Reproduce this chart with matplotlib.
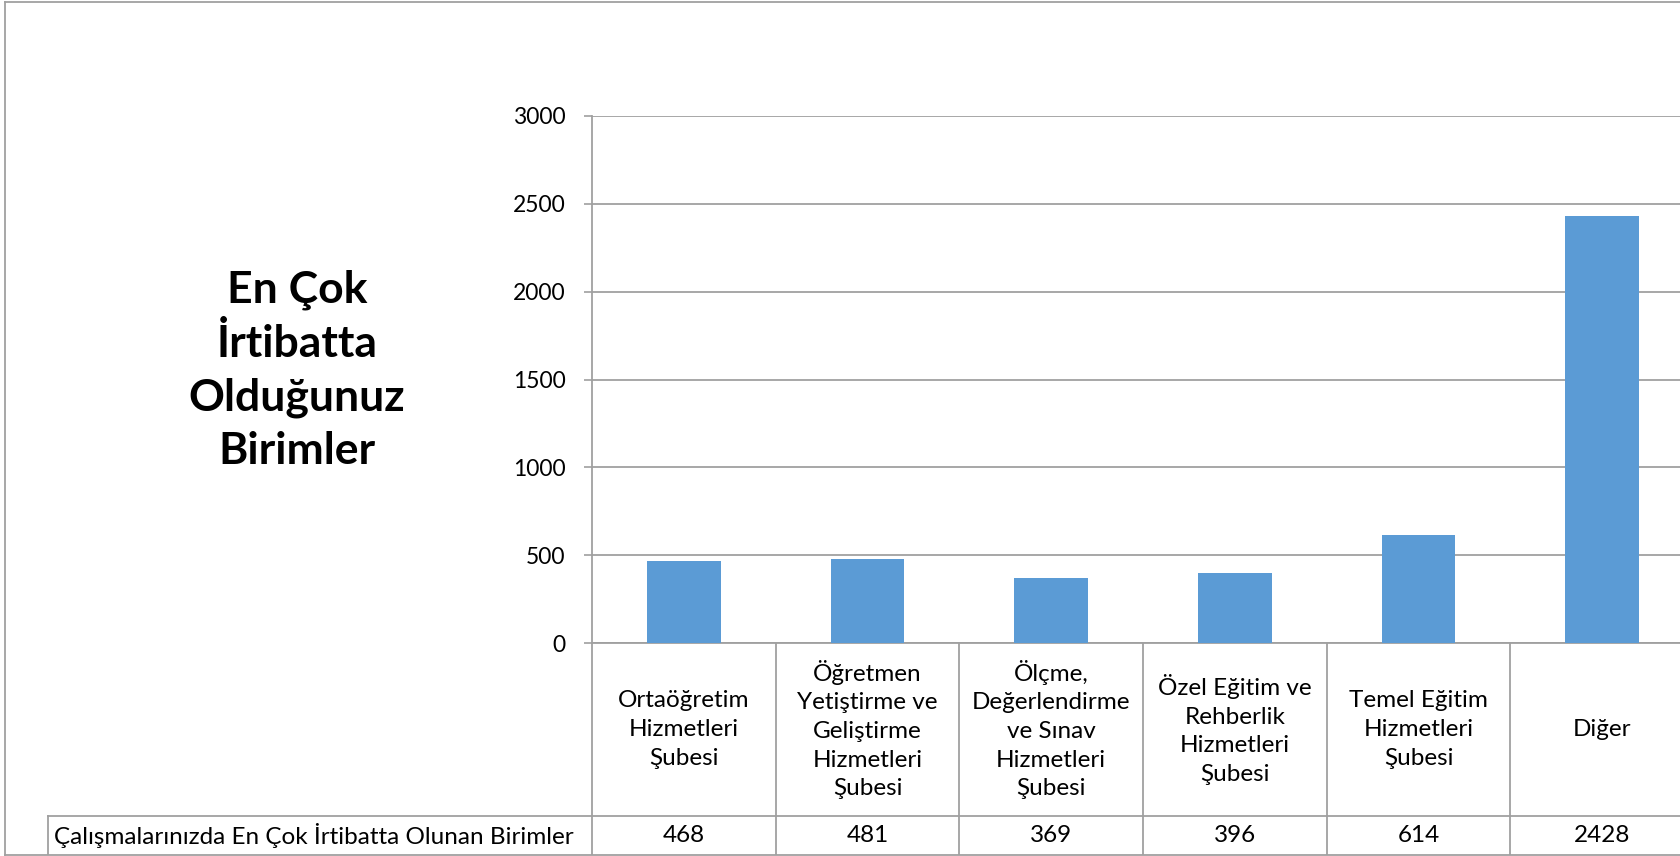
import matplotlib

matplotlib.use("Agg")
import matplotlib.pyplot as plt
from matplotlib.lines import Line2D
import numpy as np

W, H = 1680, 856

CATEGORIES = [
    "Ortaöğretim\nHizmetleri\nŞubesi",
    "Öğretmen\nYetiştirme ve\nGeliştirme\nHizmetleri\nŞubesi",
    "Ölçme,\nDeğerlendirme\nve Sınav\nHizmetleri\nŞubesi",
    "Özel Eğitim ve\nRehberlik\nHizmetleri\nŞubesi",
    "Temel Eğitim\nHizmetleri\nŞubesi",
    "Diğer",
]
VALUES = [468, 481, 369, 396, 614, 2428]
Y_TICKS = [0, 500, 1000, 1500, 2000, 2500, 3000]
SERIES_NAME = "Çalışmalarınızda En Çok İrtibatta Olunan Birimler"
TITLE = "En Çok\nİrtibatta\nOlduğunuz\nBirimler"

BAR_COLOR = "#5B9BD5"
LINE_COLOR = "#A0A0A0"
TEXT_COLOR = "#000000"

plt.rcParams["font.family"] = ["Lato", "DejaVu Sans"]


def fx(x):
    return x / W


def fy(y):
    return 1 - y / H


fig = plt.figure(figsize=(W / 100, H / 100), dpi=100)

# plot area in pixel coords (left, top, right, bottom)
ax_l, ax_t, ax_r, ax_b = 592, 116, 1694, 643
ax = fig.add_axes([fx(ax_l), fy(ax_b), fx(ax_r - ax_l), (ax_b - ax_t) / H])

x = np.arange(len(VALUES))
ax.bar(x, VALUES, width=0.4, color=BAR_COLOR, zorder=3)
ax.set_xlim(-0.5, len(VALUES) - 0.5)
ax.set_ylim(0, 3000)
ax.set_yticks(Y_TICKS)
ax.set_yticklabels([str(t) for t in Y_TICKS], fontsize=16.5, color=TEXT_COLOR)
ax.tick_params(axis="y", length=6, width=1.2, color=LINE_COLOR, pad=13)
ax.set_xticks([])
ax.grid(axis="y", color=LINE_COLOR, lw=1.3, zorder=0)
for side in ["top", "right", "bottom"]:
    ax.spines[side].set_visible(False)
ax.spines["left"].set_color(LINE_COLOR)
ax.spines["left"].set_linewidth(1.3)

# data table below the axis
row1_b, row2_b = 816, 854
trans = ax.get_xaxis_transform()
y_row1_b = (ax_b - row1_b) / (ax_b - ax_t)
y_row2_b = (ax_b - row2_b) / (ax_b - ax_t)
y_row1_c = (ax_b - (ax_b + row1_b) / 2) / (ax_b - ax_t)
y_row2_c = (ax_b - (row1_b + row2_b) / 2) / (ax_b - ax_t)

for i in range(len(VALUES) + 1):
    ax.plot([i - 0.5, i - 0.5], [0, y_row2_b], transform=trans, color=LINE_COLOR,
            lw=1.3, clip_on=False)
ax.plot([-0.5, len(VALUES) - 0.5], [0, 0], transform=trans, color=LINE_COLOR, lw=1.3, clip_on=False)

for i, (cat, val) in enumerate(zip(CATEGORIES, VALUES)):
    ax.text(i, y_row1_c, cat, transform=trans, ha="center", va="center",
            multialignment="center", fontsize=17.5, color=TEXT_COLOR, linespacing=1.45)
    ax.text(i, y_row2_c, str(val), transform=trans, ha="center", va="center",
            fontsize=17.5, color=TEXT_COLOR)

# row label cell and row border lines (figure coords)
fig.add_artist(Line2D([fx(48), fx(W)], [fy(row1_b), fy(row1_b)], color=LINE_COLOR, lw=1.3))
fig.add_artist(Line2D([fx(48), fx(48)], [fy(row1_b), fy(row2_b)], color=LINE_COLOR, lw=1.3))
fig.text(fx(54), fy((row1_b + row2_b) / 2), SERIES_NAME, ha="left", va="center",
         fontsize=17.5, color=TEXT_COLOR)

# outer chart frame
fig.add_artist(Line2D([fx(5), fx(W)], [fy(2), fy(2)], color=LINE_COLOR, lw=1.3))
fig.add_artist(Line2D([fx(5), fx(5)], [fy(2), fy(855)], color=LINE_COLOR, lw=1.3))
fig.add_artist(Line2D([fx(5), fx(W)], [fy(855), fy(855)], color=LINE_COLOR, lw=1.3))

fig.text(fx(297), fy(370), TITLE, ha="center", va="center", multialignment="center",
         fontsize=32, fontweight="bold", color=TEXT_COLOR, linespacing=1.4)

fig.savefig("out.png", dpi=100)
